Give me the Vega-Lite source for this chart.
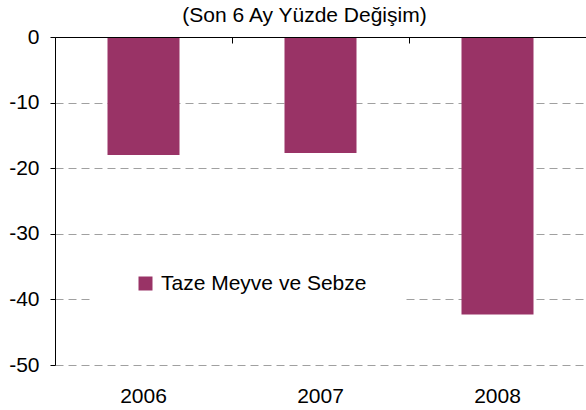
{
  "$schema": "https://vega.github.io/schema/vega-lite/v6.json",
  "width": 531,
  "height": 328,
  "autosize": {"type": "none"},
  "padding": {"left": 55, "top": 37, "right": 0, "bottom": 45},
  "background": "white",
  "config": {"view": {"stroke": null}, "font": "Liberation Sans"},
  "title": {"text": "(Son 6 Ay Yüzde Değişim)", "fontSize": 21, "fontWeight": "normal", "color": "black", "font": "Liberation Sans", "anchor": "middle", "dx": -16, "offset": 0},
  "data": {"values": [
    {"year": "2006", "value": -18.0, "series": "Taze Meyve ve Sebze"},
    {"year": "2007", "value": -17.7, "series": "Taze Meyve ve Sebze"},
    {"year": "2008", "value": -42.3, "series": "Taze Meyve ve Sebze"}
  ]},
  "encoding": {
    "y": {"field": "value", "type": "quantitative", "scale": {"domain": [-50, 0], "nice": false},
      "axis": {"title": null, "values": [-50, -40, -30, -20, -10, 0], "labelExpr": "'' + datum.value", "domainColor": "black", "tickColor": "black", "tickSize": 5, "labelFontSize": 21, "labelColor": "black", "labelPadding": 11, "labelFont": "Liberation Sans", "grid": true, "gridDash": [8, 5], "gridColor": "#a0a0a0"}}
  },
  "layer": [
    {
      "mark": {"type": "bar", "width": 72},
      "encoding": {
        "x": {"field": "year", "type": "ordinal", "scale": {"paddingInner": 0, "paddingOuter": 0},
          "axis": {"orient": "bottom", "title": null, "domain": false, "ticks": false, "labelAngle": 0, "labelFontSize": 21, "labelColor": "black", "labelPadding": 20, "labelFont": "Liberation Sans"}},
        "color": {"field": "series", "type": "nominal", "scale": {"range": ["#993366"]},
          "legend": {"title": null, "orient": "none", "legendX": 38, "legendY": 200, "fillColor": "white", "padding": 36, "symbolOffset": 6, "labelFontSize": 21, "labelFont": "Liberation Sans", "labelColor": "black", "labelOffset": 5, "labelLimit": 400, "symbolType": "square", "symbolSize": 196, "symbolStrokeWidth": 0}}
      }
    },
    {
      "mark": {"type": "bar", "width": 72, "opacity": 0},
      "encoding": {
        "x": {"field": "year", "type": "ordinal",
          "axis": {"orient": "bottom", "offset": -328, "title": null, "labels": false, "domain": true, "domainColor": "black", "domainWidth": 1, "ticks": true, "tickBand": "extent", "tickColor": "black", "tickSize": 6, "zindex": 1}}
      }
    }
  ],
  "resolve": {"axis": {"x": "independent"}}
}
